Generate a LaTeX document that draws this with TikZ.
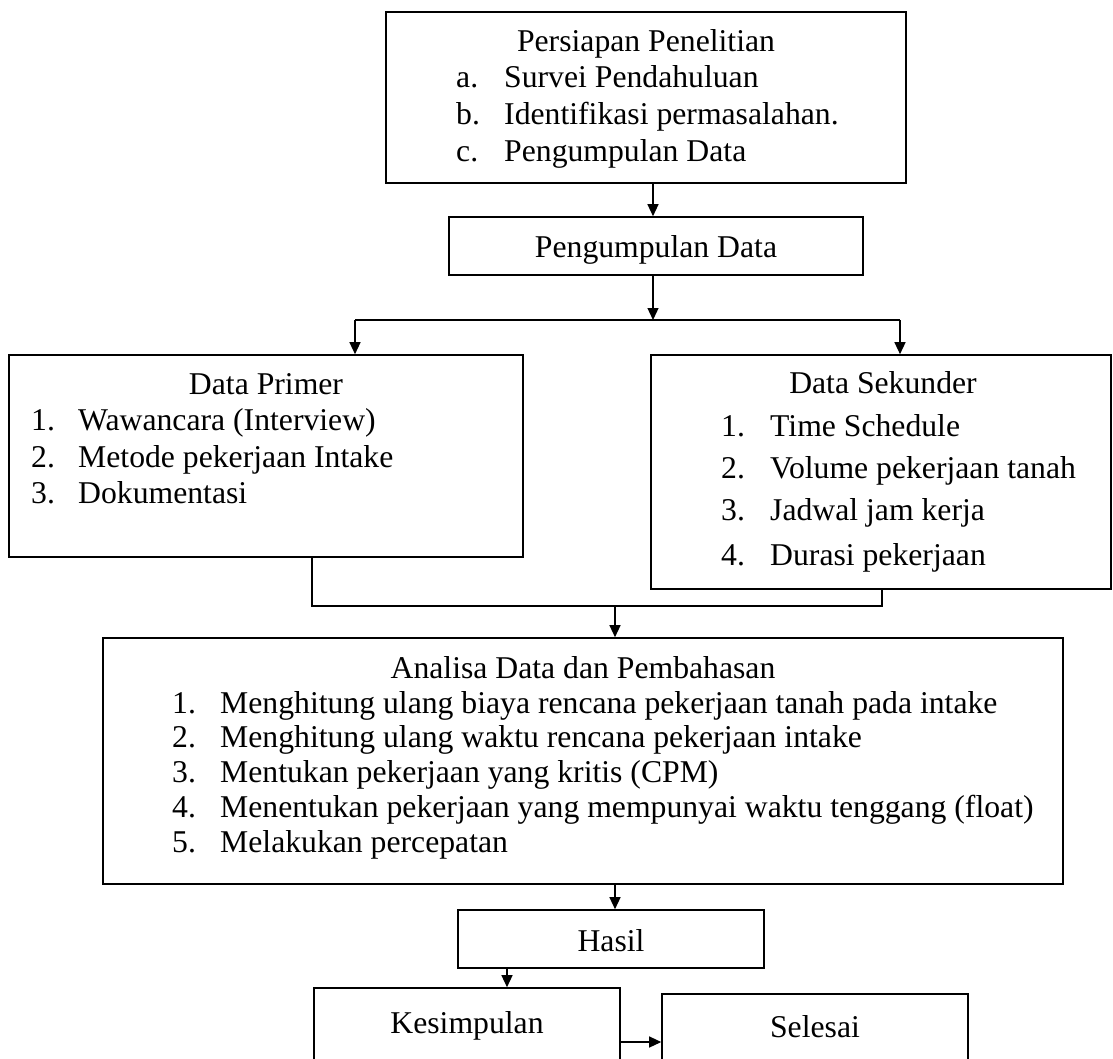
\documentclass[tikz,border=0pt]{standalone}
\usepackage{fontspec}
\setmainfont{Liberation Serif}
\usetikzlibrary{arrows.meta}
\begin{document}
\begin{tikzpicture}[x=1pt,y=-1pt,
  box/.style={draw, line width=1.6pt, rectangle, inner sep=0pt},
  txt/.style={inner sep=0pt, anchor=base west, font=\fontsize{31.7pt}{35pt}\selectfont},
  ttl/.style={inner sep=0pt, anchor=base, font=\fontsize{31.7pt}{35pt}\selectfont},
  conn/.style={line width=1.3pt},
  arr/.style={conn, -{Triangle[width=11pt,length=12pt]}}
]
\useasboundingbox (0,0) rectangle (1113,1059);
% boxes
\node[box, minimum width=520pt, minimum height=171pt] (p1) at (646,97.5) {};
\node[box, minimum width=414pt, minimum height=58pt] (p2) at (656,246) {};
\node[box, minimum width=514pt, minimum height=202pt] (dp) at (266,456) {};
\node[box, minimum width=460pt, minimum height=234pt] (ds) at (881,472) {};
\node[box, minimum width=960pt, minimum height=246pt] (an) at (583,761) {};
\node[box, minimum width=306pt, minimum height=58pt] (ha) at (611,939) {};
\node[box, minimum width=306pt, minimum height=112pt] (ke) at (467,1044) {};
\node[box, minimum width=306pt, minimum height=106pt] (se) at (815,1047) {};
% texts: Persiapan
\node[ttl] (t1) at (646,52) {Persiapan Penelitian};
\node[txt] (l1a) at (456,88) {a.};
\node[txt] (i1a) at (504,88) {Survei Pendahuluan};
\node[txt] (l1b) at (456,125) {b.};
\node[txt] (i1b) at (504,125) {Identifikasi permasalahan.};
\node[txt] (l1c) at (456,162) {c.};
\node[txt] (i1c) at (504,162) {Pengumpulan Data};
% Pengumpulan
\node[ttl] (t2) at (656,258) {Pengumpulan Data};
% Data Primer
\node[ttl] (t3) at (266,394) {Data Primer};
\node[txt] (l3a) at (31,430) {1.};
\node[txt] (i3a) at (78,430) {Wawancara (Interview)};
\node[txt] (l3b) at (31,467) {2.};
\node[txt] (i3b) at (78,467) {Metode pekerjaan Intake};
\node[txt] (l3c) at (31,503) {3.};
\node[txt] (i3c) at (78,503) {Dokumentasi};
% Data Sekunder
\node[ttl] (t4) at (883,393) {Data Sekunder};
\node[txt] (l4a) at (721,436) {1.};
\node[txt] (i4a) at (770,436) {Time Schedule};
\node[txt] (l4b) at (721,478) {2.};
\node[txt] (i4b) at (770,478) {Volume pekerjaan tanah};
\node[txt] (l4c) at (721,520) {3.};
\node[txt] (i4c) at (770,520) {Jadwal jam kerja};
\node[txt] (l4d) at (721,565) {4.};
\node[txt] (i4d) at (770,565) {Durasi pekerjaan};
% Analisa
\node[ttl] (t5) at (583,678) {Analisa Data dan Pembahasan};
\node[txt] (l5a) at (172,713) {1.};
\node[txt] (i5a) at (220,713) {Menghitung ulang biaya rencana pekerjaan tanah pada intake};
\node[txt] (l5b) at (172,747) {2.};
\node[txt] (i5b) at (220,747) {Menghitung ulang waktu rencana pekerjaan intake};
\node[txt] (l5c) at (172,782) {3.};
\node[txt] (i5c) at (220,782) {Mentukan pekerjaan yang kritis (CPM)};
\node[txt] (l5d) at (172,817) {4.};
\node[txt] (i5d) at (220,817) {Menentukan pekerjaan yang mempunyai waktu tenggang (float)};
\node[txt] (l5e) at (172,852) {5.};
\node[txt] (i5e) at (220,852) {Melakukan percepatan};
% bottom
\node[ttl] (t6) at (611,951) {Hasil};
\node[ttl] (t7) at (467,1033) {Kesimpulan};
\node[ttl] (t8) at (815,1037) {Selesai};
% connector coordinates
\coordinate (ax1) at (653,0);
\coordinate (sl) at (355,320);
\coordinate (sr) at (900,320);
\coordinate (ml) at (312,606);
\coordinate (mr) at (882,606);
\coordinate (mm) at (615,606);
\coordinate (ax3) at (507,0);
\coordinate (ay) at (0,1042);
% connectors
\draw[arr] (ax1 |- p1.south) -- (ax1 |- p2.north);
\draw[arr] (ax1 |- p2.south) -- (ax1 |- sl);
\draw[conn] (sl) -- (sr);
\draw[arr] (sl) -- (sl |- dp.north);
\draw[arr] (sr) -- (sr |- ds.north);
\draw[conn] (ml |- dp.south) -- (ml) -- (mr) -- (mr |- ds.south);
\draw[arr] (mm) -- (mm |- an.north);
\draw[arr] (mm |- an.south) -- (mm |- ha.north);
\draw[arr] (ax3 |- ha.south) -- (ax3 |- ke.north);
\draw[arr] (ke.east |- ay) -- (se.west |- ay);
\end{tikzpicture}
\end{document}
